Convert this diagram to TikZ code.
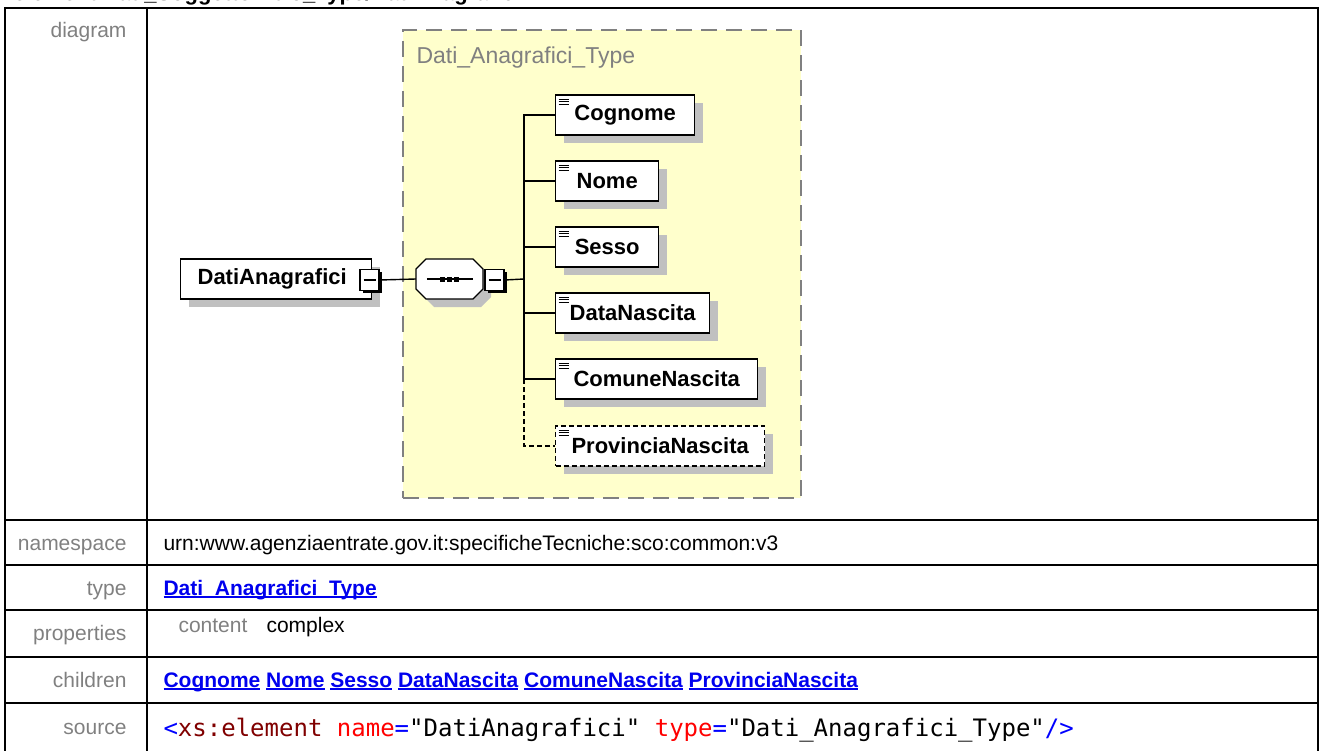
\documentclass[tikz,border=0pt]{standalone}
\usepackage{fontspec}
\setmainfont{Liberation Sans}
\newfontfamily\srcfont{DejaVu Sans Mono}
\usetikzlibrary{shadows,positioning}
\definecolor{typeyellow}{HTML}{FFFFCC}
\definecolor{shadowgrey}{HTML}{C0C0C0}
\definecolor{lblgrey}{HTML}{808080}
\definecolor{linkblue}{HTML}{0000EE}
\definecolor{srcmaroon}{HTML}{800000}
\newcommand\lnk[1]{\setbox0\hbox{#1}\rlap{\rule[-2.6pt]{\wd0}{1.4pt}}\box0\relax}
\begin{document}
\begin{tikzpicture}[x=1pt, y=-1pt,
    gridline/.style={line width=2pt},
    lbl/.style={anchor=base east, text=lblgrey, font=\fontsize{21pt}{25pt}\selectfont},
    val/.style={anchor=base west, font=\fontsize{21pt}{25pt}\selectfont},
    link/.style={val, text=linkblue, font=\fontsize{21pt}{25pt}\selectfont\bfseries},
    typebox/.style={draw=lblgrey, fill=typeyellow, line width=2pt, dash pattern=on 16pt off 9pt, anchor=north west, inner sep=0pt},
    elem/.style={draw, fill=white, line width=1.4pt, minimum height=40pt, inner sep=0pt, anchor=west, font=\fontsize{22pt}{26pt}\selectfont\bfseries, drop shadow={shadow xshift=8pt, shadow yshift=-8pt, fill=shadowgrey, opacity=1}},
    childbox/.style={elem, path picture={\draw[solid, line width=0.9pt] ([xshift=3pt, yshift=-4pt]path picture bounding box.north west) -- ++(10pt,0) ([xshift=3pt, yshift=-6.5pt]path picture bounding box.north west) -- ++(10pt,0) ([xshift=3pt, yshift=-9pt]path picture bounding box.north west) -- ++(10pt,0);}},
    optional/.style={dash pattern=on 5pt off 3pt},
    minusbox/.style={draw, fill=white, line width=1.2pt, minimum width=19pt, minimum height=21pt, inner sep=0pt, drop shadow={shadow xshift=2.5pt, shadow yshift=-2.5pt, fill=black, opacity=1}, path picture={\draw[line width=1.2pt] ([xshift=3.5pt]path picture bounding box.west) -- ([xshift=-3.5pt]path picture bounding box.east);}},
    seqbox/.style={minimum width=67pt, minimum height=40pt, inner sep=0pt},
    conn/.style={line width=1.4pt}
]
\clip (0,0) rectangle (1321,751);

% table frame
\draw[gridline] (5,760) -- (5,8) -- (1318,8) -- (1318,760);
\draw[gridline] (147,8) -- (147,760);
\draw[gridline] (5,520) -- (1318,520) (5,565) -- (1318,565) (5,610) -- (1318,610) (5,657) -- (1318,657) (5,703) -- (1318,703);

\node[anchor=base west, font=\fontsize{22pt}{26pt}\selectfont\bfseries] (heading) at (10,1) {element Dati\_SoggettoAltro\_Type/DatiAnagrafici};

% row labels
\node[lbl] (lblDiagram) at (130,38) {diagram};
\node[lbl] (lblNamespace) at (130,550) {namespace};
\node[lbl] (lblType) at (130,595) {type};
\node[lbl] (lblProperties) at (130,640) {properties};
\node[lbl] (lblChildren) at (130,687) {children};
\node[lbl] (lblSource) at (130,734) {source};

% row values
\node[val] (valNamespace) at (160,550) {urn:www.agenziaentrate.gov.it:specificheTecniche:sco:common:v3};
\node[link] (valType) at (160,595) {\lnk{Dati\_Anagrafici\_Type}};
\node[val, text=lblgrey] (valContent) at (175,632) {content};
\node[val] (valComplex) at (263,632) {complex};
\node[link] (valChildren) at (160,687) {\lnk{Cognome} \lnk{Nome} \lnk{Sesso} \lnk{DataNascita} \lnk{ComuneNascita} \lnk{ProvinciaNascita}};
\node[anchor=base west, font=\srcfont\fontsize{24pt}{28pt}\selectfont] (valSource) at (160,736) {\textcolor{blue}{<}\textcolor{srcmaroon}{xs:element} \textcolor{red}{name}\textcolor{blue}{=}"DatiAnagrafici" \textcolor{red}{type}\textcolor{blue}{=}"Dati\_Anagrafici\_Type"\textcolor{blue}{/>}};

% diagram
\node[typebox, minimum width=398pt, minimum height=468pt] (typ) at (402,29) {};
\node[anchor=base west, text=lblgrey, font=\fontsize{23pt}{27pt}\selectfont] (typName) at (413,64) {Dati\_Anagrafici\_Type};

\node[elem, minimum width=191pt] (dati) at (180,279) {DatiAnagrafici\hspace*{8pt}};
\node[minusbox] (datiMinus) at (369.5,280) {};

% sequence compositor
\fill[shadowgrey] (434,267) -- (481,267) -- (491,277) -- (491,297) -- (481,307) -- (434,307) -- (424,297) -- (424,277) -- cycle;
\draw[conn, fill=white] (426,259) -- (473,259) -- (483,269) -- (483,289) -- (473,299) -- (426,299) -- (416,289) -- (416,269) -- cycle;
\node[seqbox] (seq) at (449.5,279) {};
\draw[line width=1.2pt] ([xshift=11pt]seq.west) -- ([xshift=-10pt]seq.east);
\fill ([xshift=-9.5pt, yshift=-2.5pt]seq.center) rectangle ([xshift=-4.5pt, yshift=2.5pt]seq.center);
\fill ([xshift=-2.5pt, yshift=-2.5pt]seq.center) rectangle ([xshift=2.5pt, yshift=2.5pt]seq.center);
\fill ([xshift=4.5pt, yshift=-2.5pt]seq.center) rectangle ([xshift=9.5pt, yshift=2.5pt]seq.center);
\node[minusbox] (seqMinus) at (494.5,280) {};
\coordinate (bus) at (524,279);

\node[childbox, minimum width=139pt] (cognome) at (555,115) {Cognome};
\node[childbox, minimum width=103pt] (nome) at (555,181) {Nome};
\node[childbox, minimum width=103pt] (sesso) at (555,247) {Sesso};
\node[childbox, minimum width=154pt] (dataNascita) at (555,313) {DataNascita};
\node[childbox, minimum width=202pt] (comuneNascita) at (555,379) {ComuneNascita};
\node[childbox, optional, minimum width=209pt] (provinciaNascita) at (555,446) {ProvinciaNascita};

\draw[conn] (datiMinus.east) -- (seq.west);
\draw[conn] (seqMinus.east) -- (bus);
\draw[conn] (cognome.west) -| (bus) |- (comuneNascita.west);
\draw[conn] (nome.west) -- (nome.west -| bus);
\draw[conn] (sesso.west) -- (sesso.west -| bus);
\draw[conn] (dataNascita.west) -- (dataNascita.west -| bus);
\draw[conn, optional] (comuneNascita.west -| bus) |- (provinciaNascita.west);
\end{tikzpicture}
\end{document}
